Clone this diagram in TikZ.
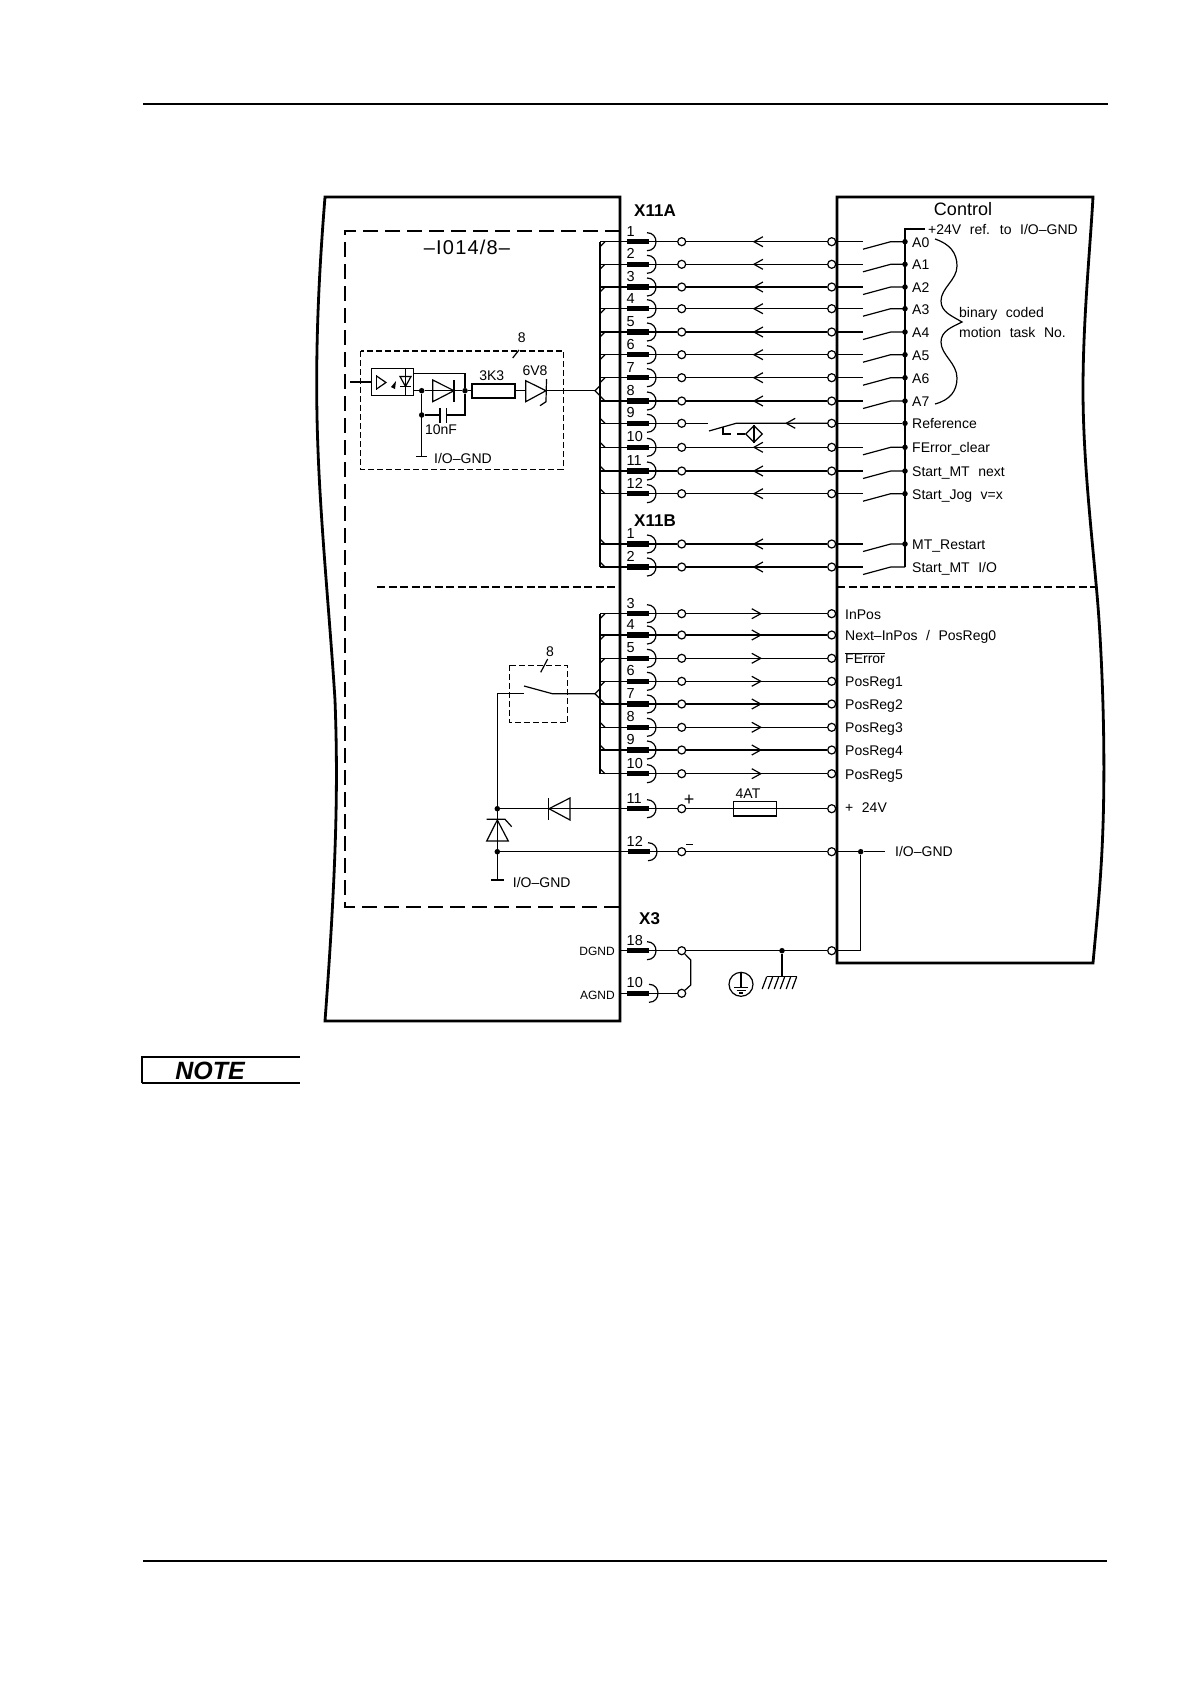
\documentclass[tikz,border=0pt]{standalone}
\usepackage{fontspec}
\setmainfont[WordSpace=2.2]{Liberation Sans}
\newfontfamily\notefont{Liberation Sans}
\usetikzlibrary{arrows.meta,shapes.geometric}
\tikzset{
  wire/.style={line width=1.2pt},
  frame/.style={line width=2.8pt},
  busline/.style={line width=2.8pt},
  boxdash/.style={line width=1.2pt,dash pattern=on 6pt off 3pt},
  innerdash/.style={line width=1.2pt,dash pattern=on 15pt off 7pt},
  sepdash/.style={line width=1.1pt,dash pattern=on 8pt off 3.5pt},
  term/.style={circle,draw,fill=white,inner sep=0pt,minimum size=8pt,line width=1.2pt},
  dot/.style={circle,fill=black,inner sep=0pt,minimum size=5.5pt},
  pinbar/.style={rectangle,fill=black,inner sep=0pt,minimum width=22pt,minimum height=5.5pt},
  pinno/.style={anchor=base west,inner sep=0pt,font=\fontsize{14.5}{16}\selectfont},
  sig/.style={anchor=base west,inner sep=0pt,font=\fontsize{14}{16}\selectfont},
  part/.style={inner sep=0pt,font=\fontsize{14}{16}\selectfont},
  conn/.style={anchor=west,inner sep=0pt,font=\fontsize{17}{18}\bfseries},
  tipleft/.style={-{Straight Barb[length=9pt,width=10pt,line width=1.2pt]}},
}
\begin{document}
\begin{tikzpicture}[x=1pt,y=-1pt]
\useasboundingbox (0,0) rectangle (1191,1684);
\draw[line width=2pt] (143,104) coordinate (hl) -- (1108,104) coordinate (hr);
\draw[line width=2pt] (143,1561) coordinate (fl) -- (1107,1561) coordinate (fr);
\draw[frame] (325,197) .. controls (320,260) and (314,350) .. (318,450)
  .. controls (321,530) and (330,620) .. (335,700)
  .. controls (338,780) and (337,860) .. (325,1021) -- (620,1021) -- (620,197) -- cycle;
\draw[innerdash] (620,231) -- (345,231) -- (345,907) -- (620,907);
\draw[sepdash] (377,587) -- (620,587);
\node[part,font=\fontsize{20}{22}\addfontfeature{LetterSpace=6}] (ident) at (467,247) {–I014/8–};

\coordinate (bustop) at (600,241.7);
\coordinate (busmid) at (600,567);
\coordinate (lowtop) at (600,613.7);
\coordinate (lowbot) at (600,773.7);
\draw[busline] (bustop) -- (busmid);
\draw[busline] (lowtop) -- (lowbot);

\foreach \n/\y/\s/\m in {a1/241.7/1/1,a2/264.3/1/2,a3/287/1/3,a4/308.7/1/4,a5/332/1/5,a6/354.7/1/6,a7/377.7/1/7,a8/401/-1/8,a9/423.3/-1/9,a10/447.3/-1/10,a11/471/-1/11,a12/493.7/-1/12,b1/544/-1/1,b2/567/-1/2,c3/613.7/1/3,c4/635/1/4,c5/658.3/1/5,c6/681.3/1/6,c7/704/-1/7,c8/727.3/-1/8,c9/750/-1/9,c10/773.7/-1/10}{
  \node[pinbar] (p\n) at (638,\y) {};
  \node[pinno] (n\n) at (626.5,\y-5.5) {\m};
  \node[term] (l\n) at (681.7,\y) {};
  \node[term] (r\n) at (831.7,\y) {};
  \draw[wire] (647,\y-9) .. controls (659,\y-9) and (659,\y+9) .. (647,\y+9);
  \draw[wire] (600,\y) -- (p\n);
  \draw[wire] (600,\y+5*\s) -- (605,\y);
  \draw[wire] (p\n) -- (l\n);
}
\foreach \n/\y in {a1/241.7,a2/264.3,a3/287,a4/308.7,a5/332,a6/354.7,a7/377.7,a8/401,a10/447.3,a11/471,a12/493.7,b1/544,b2/567}{
  \draw[wire] (l\n) -- (r\n);
  \draw[wire,tipleft] (765,\y) -- (752.7,\y);
  \draw[wire] (r\n) -- (862.7,\y);
  \draw[wire] (863,\y+7.5) -- (890.7,\y) -- (905,\y);
}
\foreach \n/\y/\t in {a1/241.7/A0,a2/264.3/A1,a3/287/A2,a4/308.7/A3,a5/332/A4,a6/354.7/A5,a7/377.7/A6,a8/401/A7,a9/423.3/Reference,a10/447.3/FError\_clear,a11/471/Start\_MT next,a12/493.7/Start\_Jog v=x,b1/544/MT\_Restart}{
  \node[dot] (d\n) at (905,\y) {};
  \node[sig] (t\n) at (912,\y+5.5) {\t};
}
\node[sig] (tb2) at (912,572.5) {Start\_MT I/O};
\foreach \n/\y/\t in {c3/613.7/InPos,c4/635/Next–InPos {/} PosReg0,c5/658.3/$\overline{\hbox{FError}}$,c6/681.3/PosReg1,c7/704/PosReg2,c8/727.3/PosReg3,c9/750/PosReg4,c10/773.7/PosReg5}{
  \draw[wire] (l\n) -- (r\n);
  \draw[wire,tipleft] (750,\y) -- (762,\y);
  \node[sig] (t\n) at (845,\y+5.5) {\t};
}

\draw[wire] (905,567) -- (905,229) -- (925,229);
\node[sig] (ref) at (928,234) {+24V ref. to I/O–GND};
\node[part,font=\fontsize{18}{20}\selectfont] (control) at (963,209) {Control};
\draw[wire] (935,239) .. controls (950,244) and (957,253) .. (957,266)
  .. controls (957,280) and (941,288) .. (941,301)
  .. controls (941,312) and (952,316) .. (962,322)
  .. controls (952,327) and (941,331) .. (941,342)
  .. controls (941,355) and (957,363) .. (957,378)
  .. controls (957,391) and (950,400) .. (935,404);
\node[sig] (bin) at (959,317) {binary coded};
\node[sig] (mot) at (959,337) {motion task No.};

% reference sensor row
\coordinate (swa) at (708,423.3);
\coordinate (swb) at (709,431);
\coordinate (swc) at (736,423.3);
\draw[wire] (la9) -- (swa);
\draw[wire] (swb) -- (swc) -- (ra9);
\draw[wire,tipleft] (797,423.3) -- (785,423.3);
\draw[wire] (ra9) -- (da9);
\draw[wire] (723,427) -- (723,434) -- (731,434);
\node[draw,wire,diamond,aspect=1,inner sep=0pt,minimum size=17pt] (prox) at (754,434) {};
\draw[wire] (prox.north) -- (prox.south);
\draw[wire] (737,434) -- (prox);

% opto input block
\draw[boxdash] (360.7,351) rectangle (563.3,469.3);
\node[part] (eighta) at (521.7,337.3) {8};
\draw[wire] (519,350) -- (512.7,358);
\coordinate (opin) at (350,382);
\node[draw,wire,rectangle,inner sep=0pt,minimum width=41.6pt,minimum height=27.4pt] (opto) at (392.5,382) {};
\draw[wire] (opin) -- (opto);
\draw[wire] (376.5,375) -- (376.5,390);
\draw[wire] (376.5,376) -- (386,382.5) -- (376.5,389);
\fill (391,387) -- (396,381) -- (395,389) -- cycle;
\draw[wire] (400,376.5) -- (411,376.5) -- (405.5,386.5) -- cycle;
\draw[wire] (400,386.5) -- (411,386.5);
\draw[wire] (405.5,368.3) -- (405.5,395.7);
\node[dot] (ja) at (421.7,390.7) {};
\node[dot] (jb) at (465,390.7) {};
\node[dot] (jc) at (421.7,415) {};
\draw[wire] (413.3,390.7) -- (ja) -- (jb);
\draw[wire] (432.7,380) -- (432.7,401.7) -- (454,390.7) -- cycle;
\draw[wire] (454,380) -- (454,401.7);
\draw[wire] (413.3,373.3) -- (465,373.3) -- (jb) -- (465,415) -- (446.7,415);
\draw[wire] (jc) -- (440,415);
\draw[wire] (440,408) -- (440,422.7);
\draw[wire] (446.7,408) -- (446.7,422.7);
\draw[wire] (ja) -- (421.7,456.7);
\draw[wire] (416,456.7) -- (426.7,456.7);
\node[part] (cap) at (441,429.3) {10nF};
\node[sig] (gnda) at (434,463) {I/O–GND};
\node[draw,line width=2pt,rectangle,inner sep=0pt,minimum width=43pt,minimum height=14pt] (res) at (493.3,390.7) {};
\node[part] (rlab) at (491.7,376) {3K3};
\node[part] (zlab) at (535,370.7) {6V8};
\draw[wire] (jb) -- (res);
\draw[wire] (res) -- (525.7,390.7);
\draw[wire] (525.7,380.7) -- (525.7,401.7) -- (546,390.7) -- cycle;
\draw[wire] (546.5,379) -- (546,401.7) -- (540,405.7);
\draw[wire] (546,390.7) -- (595,390.7);
\draw[wire] (600,385.7) -- (595,390.7) -- (600,395.7);

% output switch block
\draw[boxdash] (509.3,665.3) rectangle (567.7,722.7);
\node[part] (eightb) at (550,651.7) {8};
\draw[wire] (547.7,659) -- (540.7,672.3);
\coordinate (ga) at (497.3,693.7);
\coordinate (gb) at (497.3,880);
\draw[wire] (ga) -- (524,693.7);
\draw[wire] (524,686) -- (552.3,693.7) -- (595,693.7);
\draw[wire] (600,688.7) -- (595,693.7) -- (600,698.7);
\draw[wire] (ga) -- (gb);
\draw[wire] (491.3,880) -- (503.7,880);
\node[sig] (gndb) at (512.7,887) {I/O–GND};
\node[dot] (jd) at (497.3,808.7) {};
\node[dot] (je) at (497.3,851.7) {};
\draw[wire] (497.3,820) -- (486.7,841) -- (508.3,841) -- cycle;
\draw[wire] (486.7,819.3) -- (505,819.3) -- (511.7,826.7);
\draw[wire] (548.7,798) -- (548.7,820);
\draw[wire] (570,798) -- (570,820) -- (549,808.7) -- cycle;

% supply pins
\node[pinbar] (p11) at (638,808.7) {};
\node[pinno] (n11) at (626.5,803.2) {11};
\node[term] (l11) at (681.7,808.7) {};
\node[term] (r11) at (831.7,808.7) {};
\draw[wire] (647,799.7) .. controls (659,799.7) and (659,817.7) .. (647,817.7);
\draw[wire] (jd) -- (p11);
\draw[wire] (p11) -- (l11);
\draw[wire] (l11) -- (r11);
\node[draw,wire,rectangle,inner sep=0pt,minimum width=43.4pt,minimum height=14.3pt] (fuse) at (755,808.9) {};
\node[part] (fuselab) at (748,794) {4AT};
\node[part,font=\fontsize{18}{20}\selectfont] (plus) at (689,800) {+};
\node[sig] (volt) at (845,812.8) {+ 24V};
\node[pinbar] (p12) at (639,851.7) {};
\node[pinno] (n12) at (626.5,846.2) {12};
\node[term] (l12) at (681.7,851.7) {};
\node[term] (r12) at (831.7,851.7) {};
\draw[wire] (648,842.7) .. controls (660,842.7) and (660,860.7) .. (648,860.7);
\draw[wire] (je) -- (p12);
\draw[wire] (p12) -- (l12);
\draw[wire] (l12) -- (r12);
\draw[wire] (686,844.3) -- (693,844.3);
\node[dot] (jf) at (860.7,851.7) {};
\coordinate (gout) at (885,851.7);
\draw[wire] (r12) -- (jf) -- (gout);
\node[sig] (gndc) at (895,856) {I/O–GND};

% X3
\node[pinbar] (p18) at (638,950.7) {};
\node[pinno] (n18) at (626.5,945.2) {18};
\node[term] (l18) at (681.7,950.7) {};
\node[term] (r18) at (831.7,950.7) {};
\draw[wire] (647,941.7) .. controls (659,941.7) and (659,959.7) .. (647,959.7);
\draw[wire] (620,950.7) -- (p18);
\draw[wire] (p18) -- (l18);
\draw[wire] (l18) -- (r18);
\node[pinbar] (p10) at (638,993.3) {};
\node[pinno] (n10) at (626.5,987.8) {10};
\node[term] (l10) at (681.7,993.3) {};
\draw[wire] (649,984.3) .. controls (661,984.3) and (661,1002.3) .. (649,1002.3);
\draw[wire] (620,993.3) -- (p10);
\draw[wire] (p10) -- (l10);
\draw[wire] (l18) -- (690.7,960) -- (690.7,985) -- (l10);
\node[part,anchor=east,font=\fontsize{12}{14}\selectfont] (dgnd) at (615,951) {DGND};
\node[part,anchor=east,font=\fontsize{12}{14}\selectfont] (agnd) at (615,995) {AGND};
\node[dot] (je2) at (782,950.7) {};
\draw[wire] (je2) -- (782,976.7);
\draw[wire] (766.7,976.7) -- (796.7,976.7);
\foreach \x in {766.7,772.7,778.7,784.7,790.7,796.7}
  \draw[wire] (\x,976.7) -- (\x-4.5,989);
\node[draw,circle,wire,inner sep=0pt,minimum size=24pt] (earth) at (741,984.3) {};
\draw[wire] (741,973.3) -- (741,987);
\draw[wire] (734,987.7) -- (748,987.7);
\draw[wire] (736.5,990.5) -- (745.5,990.5);
\draw[wire] (739,993) -- (743,993);
\draw[wire] (jf) -- (860.7,950.7) -- (r18);

\draw[frame] (837,963) -- (837,197) -- (1093,197)
  .. controls (1090,250) and (1083,320) .. (1083,390)
  .. controls (1083,470) and (1095,560) .. (1099,620)
  .. controls (1103,680) and (1106,770) .. (1102,850)
  .. controls (1100,890) and (1096,930) .. (1093,963) -- cycle;
\draw[sepdash] (837,587) -- (1095,587);

\node[conn] (xa) at (634,210.7) {X11A};
\node[conn] (xb) at (634,521) {X11B};
\node[conn] (xc) at (639,919) {X3};

\draw[line width=1.2pt] (300,1057) -- (142,1057) -- (142,1083);
\draw[line width=1.6pt] (142,1083) -- (300,1083);
\node[inner sep=0pt,font=\fontsize{25}{27}\notefont\bfseries\itshape] (note) at (210,1071) {NOTE};
\end{tikzpicture}
\end{document}
